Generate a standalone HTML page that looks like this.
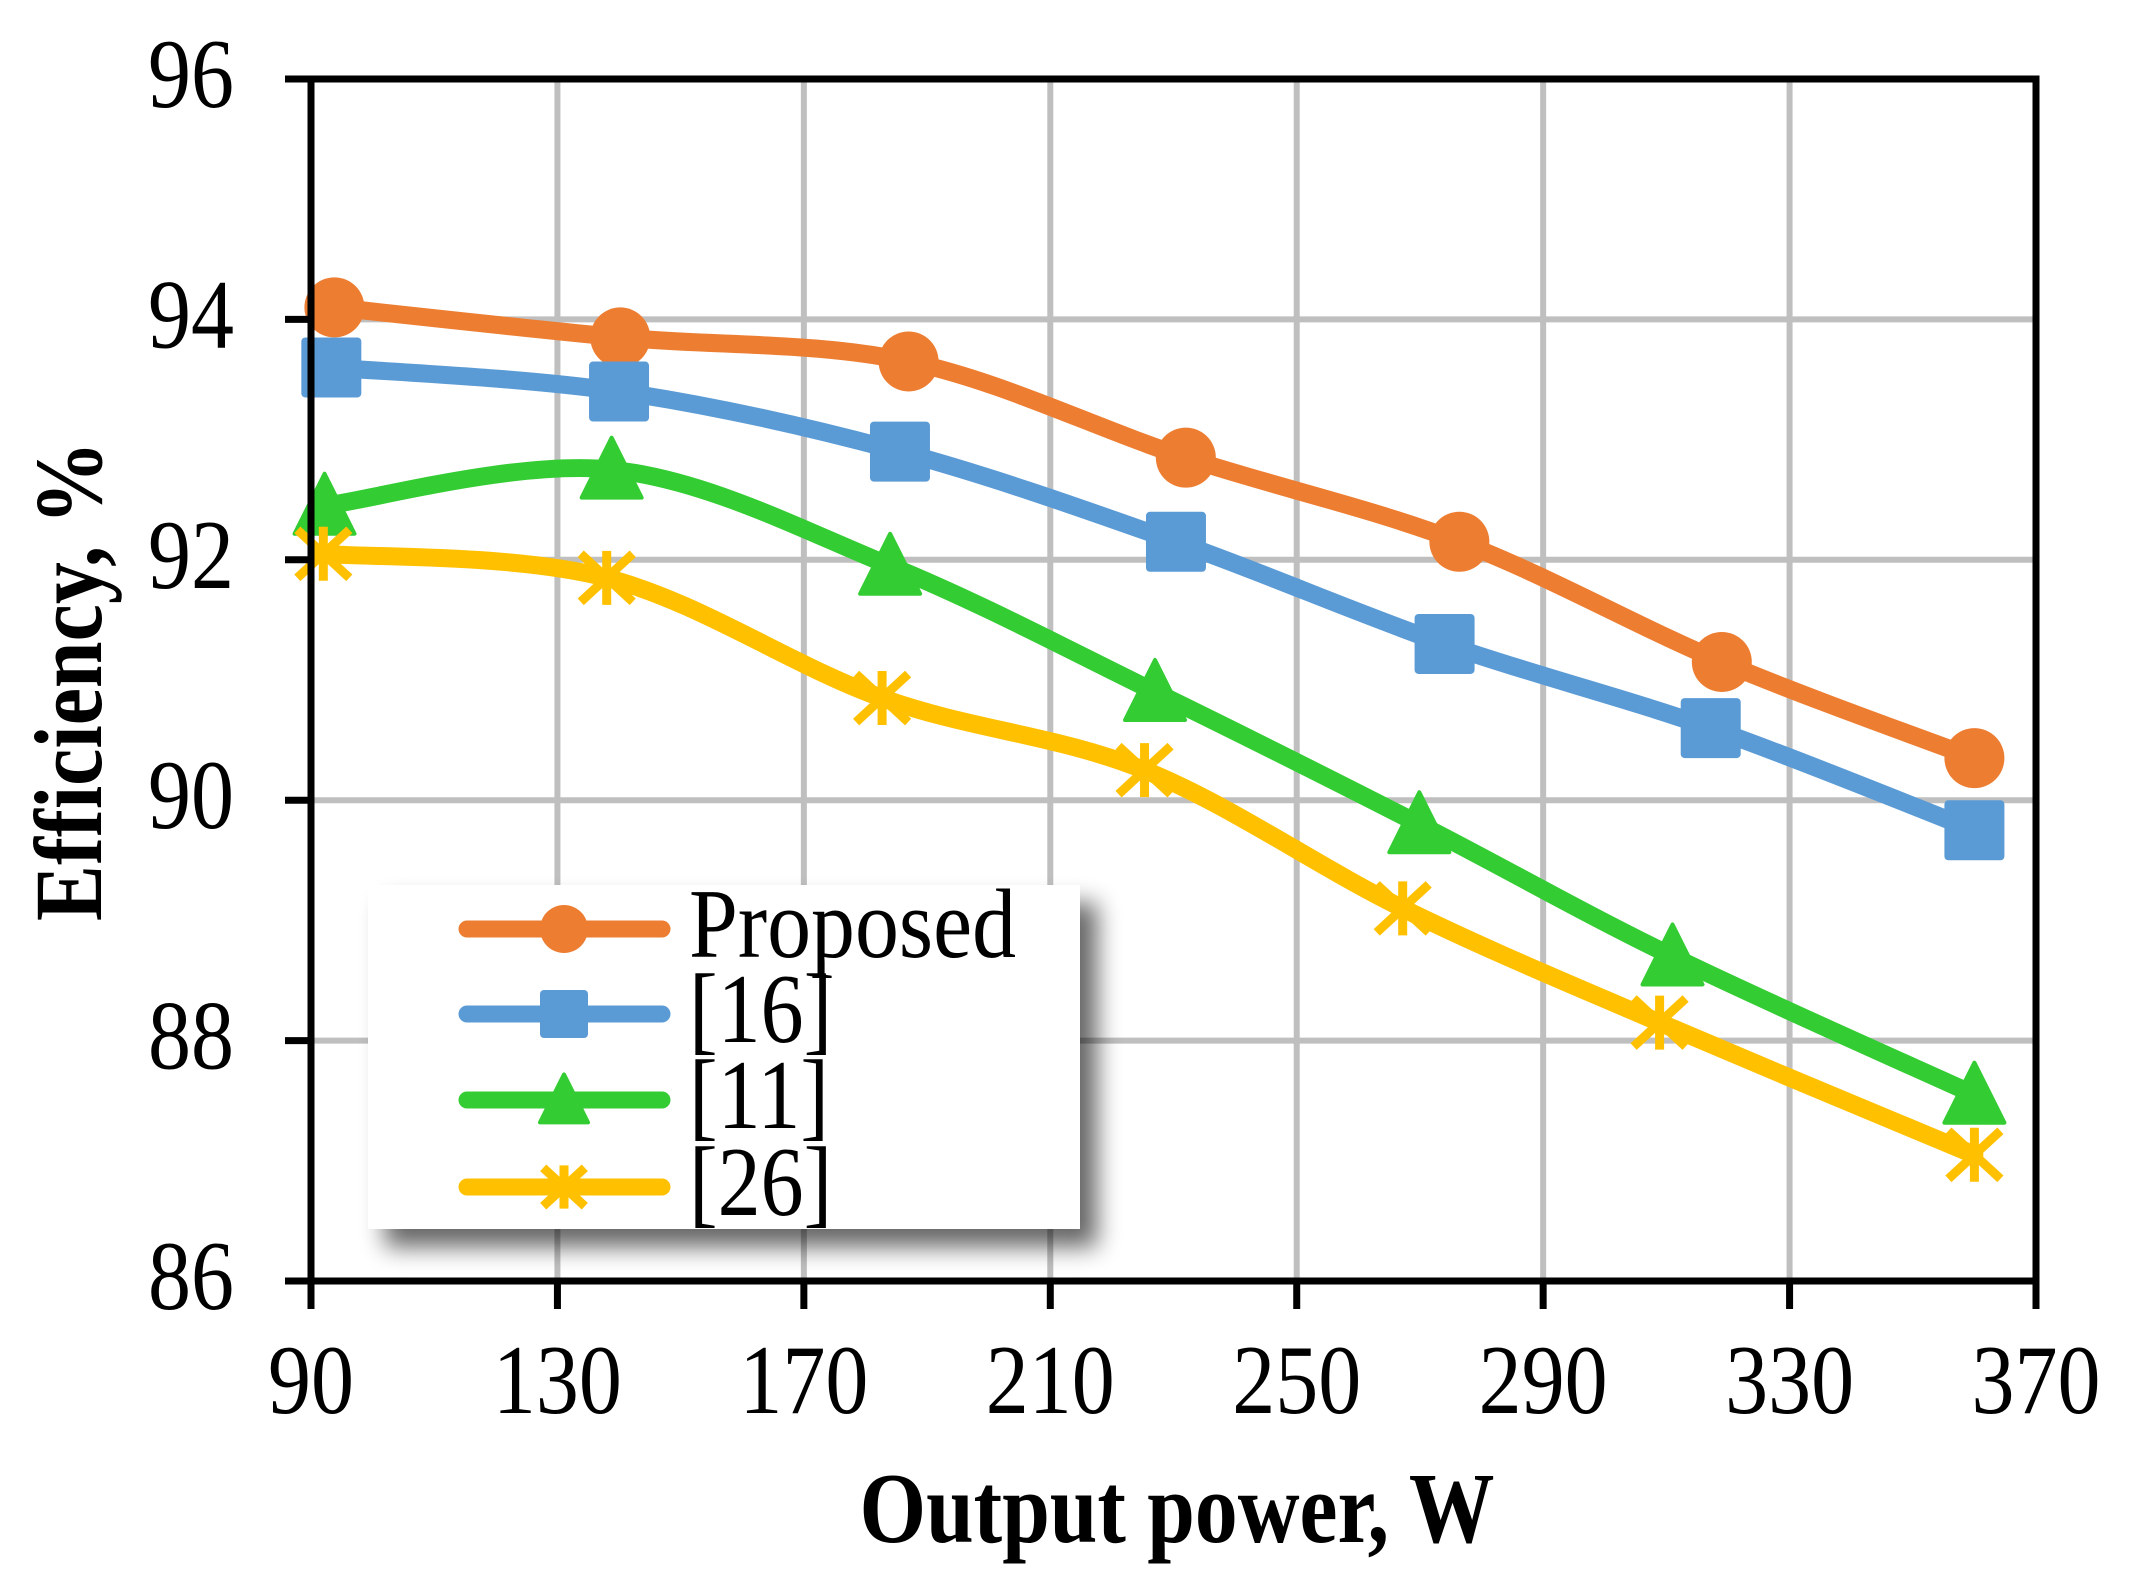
<!DOCTYPE html>
<html><head><meta charset="utf-8"><style>
html,body{margin:0;padding:0;background:#fff;}
svg{display:block;}
text{font-family:"Liberation Serif",serif;fill:#000;}
</style></head><body>
<svg id="s" width="2149" height="1589" xmlns="http://www.w3.org/2000/svg">
<defs>
<filter id="sh" x="-10%" y="-10%" width="130%" height="130%"><feGaussianBlur stdDeviation="12"/></filter>
</defs>
<g id="grid" stroke="#bfbfbf" stroke-width="6"></g>
<g id="series"></g>
<rect x="385" y="903" width="712" height="344" fill="#000" opacity="0.6" filter="url(#sh)"/>
<rect x="368" y="885" width="712" height="344" fill="#fff"/>
<g id="leg"></g>
<g id="axes" stroke="#000" stroke-width="7" fill="none"></g>
<g id="labels" font-size="86"></g>
<text transform="translate(1177,1542) scale(1,1.1)" font-size="92" font-weight="bold" text-anchor="middle" textLength="635" lengthAdjust="spacingAndGlyphs">Output power, W</text>
<text transform="translate(101,681) rotate(-90) scale(1,1.05)" font-size="92" font-weight="bold" text-anchor="middle" textLength="480" lengthAdjust="spacingAndGlyphs">Efficiency, %</text>
</svg>
<script>
const NS="http://www.w3.org/2000/svg";
function el(p,t,a){const e=document.createElementNS(NS,t);for(const k in a)e.setAttribute(k,a[k]);p.appendChild(e);return e;}
const X=P=>311+(P-90)*246.43/40, Y=E=>79+(96-E)*120.2;
const g=document.getElementById('grid'),ax=document.getElementById('axes'),lb=document.getElementById('labels');
for(let i=1;i<7;i++){const x=X(90+40*i);el(g,'line',{x1:x,y1:79,x2:x,y2:1281});}
for(let i=1;i<5;i++){const y=Y(86+2*i);el(g,'line',{x1:311,y1:y,x2:2036,y2:y});}
el(ax,'rect',{x:311,y:79,width:1725,height:1202});
for(let i=0;i<=7;i++){const x=X(90+40*i);el(ax,'line',{x1:x,y1:1281,x2:x,y2:1309});
 const t=el(lb,'text',{transform:`translate(${x},1413) scale(1,1.14)`,'text-anchor':'middle'});t.textContent=90+40*i;}
for(let i=0;i<=5;i++){const y=Y(86+2*i);el(ax,'line',{x1:285,y1:y,x2:311,y2:y});
 const t=el(lb,'text',{transform:`translate(234,${y+28}) scale(1,1.14)`,'text-anchor':'end'});t.textContent=86+2*i;}
const S=[
 {c:'#ED7D31',m:'o',d:[[93.8,94.1],[140.2,93.85],[187,93.65],[232,92.85],[276.4,92.15],[319,91.15],[360,90.35]]},
 {c:'#5B9BD5',m:'s',d:[[93.3,93.6],[140,93.4],[185.6,92.9],[230.4,92.15],[274,91.3],[317.2,90.6],[360,89.75]]},
 {c:'#33CC33',m:'t',d:[[92.2,92.45],[138.8,92.75],[184,91.95],[227,90.9],[269.9,89.8],[311,88.7],[360,87.55]]},
 {c:'#FFC000',m:'x',d:[[92,92.05],[138,91.85],[182.7,90.85],[225.3,90.25],[267.2,89.1],[308.9,88.15],[360,87.05]]}];
const sg=document.getElementById('series'),lg=document.getElementById('leg');
function marker(p,m,c,x,y,s){
 s=s||1;
 if(m=='o')el(p,'circle',{cx:x,cy:y,r:30*s,fill:c});
 else if(m=='s')el(p,'rect',{x:x-30*s,y:y-30*s,width:60*s,height:60*s,rx:4,fill:c});
 else if(m=='t')el(p,'path',{d:`M${x},${y-32*s}L${x+30*s},${y+28*s}L${x-30*s},${y+28*s}Z`,fill:c,stroke:c,'stroke-width':4,'stroke-linejoin':'round'});
 else{const a={stroke:c,'stroke-width':9};el(p,'line',Object.assign({x1:x,y1:y-27*s,x2:x,y2:y+27*s},a));
  el(p,'line',Object.assign({x1:x-26*s,y1:y-24*s,x2:x+26*s,y2:y+24*s},a));el(p,'line',Object.assign({x1:x-26*s,y1:y+24*s,x2:x+26*s,y2:y-24*s},a));}
}
const names=['Proposed','[16]','[11]','[26]'];
S.forEach((s,k)=>{
 const p=s.d.map(q=>[X(q[0]),Y(q[1])]);
 let d=`M${p[0][0]},${p[0][1]}`;
 for(let i=0;i<p.length-1;i++){const p0=p[Math.max(0,i-1)],p1=p[i],p2=p[i+1],p3=p[Math.min(p.length-1,i+2)];
  const t=1/6;d+=`C${p1[0]+(p2[0]-p0[0])*t},${p1[1]+(p2[1]-p0[1])*t} ${p2[0]-(p3[0]-p1[0])*t},${p2[1]-(p3[1]-p1[1])*t} ${p2[0]},${p2[1]}`;}
 el(sg,'path',{d:d,fill:'none',stroke:s.c,'stroke-width':18,'stroke-linejoin':'round','stroke-linecap':'round'});
 p.forEach(q=>marker(sg,s.m,s.c,q[0],q[1]));
 const y=[929,1014,1100,1187][k];
 el(lg,'line',{x1:467,y1:y,x2:662,y2:y,stroke:s.c,'stroke-width':17,'stroke-linecap':'round'});
 marker(lg,s.m,s.c,564,y,0.8);
 const t=el(lg,'text',{transform:`translate(689,${y+28}) scale(1,1.14)`,'font-size':86});t.textContent=names[k];
 if(k==0){t.setAttribute('textLength',327);t.setAttribute('lengthAdjust','spacingAndGlyphs');}
});
</script>
</body></html>
